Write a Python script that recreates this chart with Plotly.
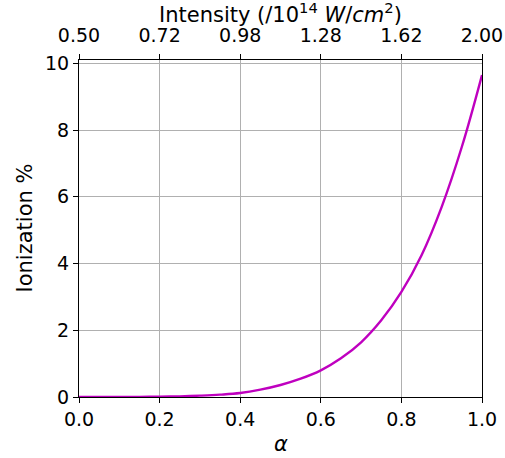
import plotly.graph_objects as go

alpha = [0.0, 0.05, 0.1, 0.15, 0.2, 0.25, 0.3, 0.35, 0.4, 0.45, 0.5, 0.55,
         0.6, 0.65, 0.7, 0.75, 0.8, 0.85, 0.9, 0.95, 1.0]
ionization = [0.0, 0.0, 0.002, 0.005, 0.01, 0.02, 0.04, 0.07, 0.12, 0.22, 0.36, 0.55,
              0.8, 1.16, 1.64, 2.3, 3.15, 4.25, 5.7, 7.5, 9.65]

alpha_ticks = [0.0, 0.2, 0.4, 0.6, 0.8, 1.0]
alpha_labels = ["0.0", "0.2", "0.4", "0.6", "0.8", "1.0"]
intensity_labels = ["0.50", "0.72", "0.98", "1.28", "1.62", "2.00"]
y_ticks = [0, 2, 4, 6, 8, 10]

FONT = "DejaVu Sans"
FS = 19
TFS = 21
fig = go.Figure()
fig.add_trace(go.Scatter(x=alpha, y=ionization, mode="lines",
                         line=dict(color="#bf00bf", width=2.4, shape="spline", smoothing=1.1),
                         showlegend=False, hoverinfo="skip"))
fig.add_trace(go.Scatter(x=alpha_ticks, y=[None] * len(alpha_ticks), xaxis="x2",
                         mode="lines", showlegend=False, hoverinfo="skip"))

axis_common = dict(showline=True, linecolor="black", linewidth=1.2,
                   ticks="outside", ticklen=5, tickwidth=1.2, tickcolor="black",
                   zeroline=False, automargin=False,
                   tickfont=dict(family=FONT, size=FS, color="black"))

fig.update_layout(
    width=505, height=458,
    margin=dict(l=79, r=23, t=60, b=61),
    paper_bgcolor="white", plot_bgcolor="white",
    font=dict(family=FONT, color="black"),
    xaxis=dict(range=[0, 1], tickvals=alpha_ticks, ticktext=alpha_labels,
               showgrid=True, gridcolor="#b0b0b0", gridwidth=1,
               **axis_common),
    xaxis2=dict(range=[0, 1], overlaying="x", side="top",
                tickvals=alpha_ticks, ticktext=intensity_labels, showgrid=False,
                ticklabelstandoff=4, **axis_common),
    yaxis=dict(range=[0, 10.1], tickvals=y_ticks, showgrid=True, gridcolor="#b0b0b0",
               gridwidth=1, mirror=True,
               **axis_common),
    annotations=[
        dict(text="<i>α</i>", xref="paper", yref="paper", x=0.5, y=0,
             xanchor="center", yanchor="middle", yshift=-47, showarrow=False,
             font=dict(family=FONT, size=TFS, color="black")),
        dict(text="Intensity (/10<sup>14</sup> <i>W</i>/<i>cm</i><sup>2</sup>)",
             xref="paper", yref="paper", x=0.5, y=1,
             xanchor="center", yanchor="middle", yshift=47, showarrow=False,
             font=dict(family=FONT, size=TFS, color="black")),
        dict(text="Ionization %", xref="paper", yref="paper", x=0, y=0.5,
             xanchor="center", yanchor="middle", xshift=-55, textangle=-90,
             showarrow=False, font=dict(family=FONT, size=TFS, color="black")),
    ],
)

fig.write_html("out.html", config={"displayModeBar": False},
               post_script="document.body.style.margin='0px';")
